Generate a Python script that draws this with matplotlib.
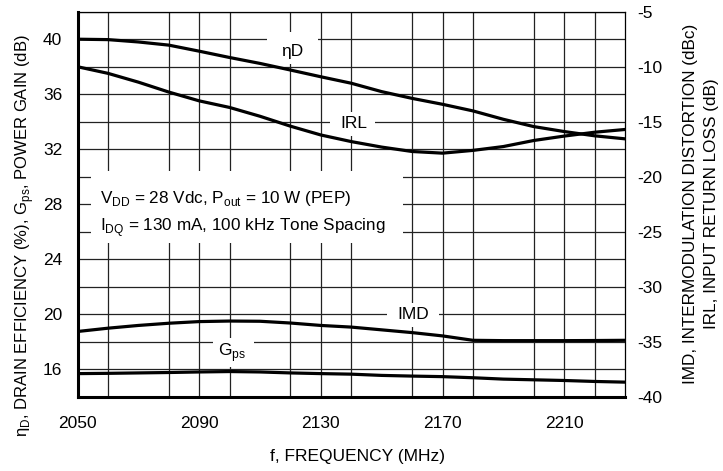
import matplotlib
matplotlib.use('Agg')
import matplotlib.pyplot as plt
from matplotlib.patches import Rectangle
from matplotlib.ticker import MultipleLocator

# font setup: helvetica-like look
plt.rcParams['font.family'] = ['Liberation Sans', 'DejaVu Sans']
plt.rcParams['mathtext.fontset'] = 'custom'
plt.rcParams['mathtext.rm'] = 'Liberation Sans'
plt.rcParams['axes.unicode_minus'] = False

# data
freq = [2050, 2060, 2070, 2080, 2090, 2100, 2110, 2120, 2130, 2140,
        2150, 2160, 2170, 2180, 2190, 2200, 2210, 2220, 2230]
eta_d = [40.0, 39.97, 39.8, 39.57, 39.13, 38.67, 38.24, 37.76, 37.27, 36.8,
         36.19, 35.7, 35.27, 34.79, 34.18, 33.65, 33.29, 32.98, 32.76]
gps = [15.7, 15.72, 15.75, 15.78, 15.82, 15.85, 15.82, 15.75, 15.7, 15.66,
       15.57, 15.52, 15.48, 15.4, 15.3, 15.25, 15.2, 15.13, 15.08]
irl = [-10.0, -10.6, -11.4, -12.3, -13.1, -13.7, -14.5, -15.4, -16.2, -16.8,
       -17.3, -17.7, -17.85, -17.6, -17.25, -16.7, -16.3, -15.95, -15.7]
imd = [-34.05, -33.75, -33.5, -33.3, -33.15, -33.1, -33.12, -33.28, -33.5, -33.65,
       -33.9, -34.15, -34.45, -34.85, -34.88, -34.88, -34.88, -34.87, -34.85]

x_ticks = [2050, 2090, 2130, 2170, 2210]
left_ticks = [16, 20, 24, 28, 32, 36, 40]
right_ticks = [-40, -35, -30, -25, -20, -15, -10, -5]

fs = 12.5

fig = plt.figure(figsize=(7.23, 4.71), dpi=100)
ax = fig.add_axes([0.1072, 0.1571, 0.7573, 0.8181])
ax2 = ax.twinx()

ax.set_xlim(2050, 2230)
ax.set_ylim(14, 42)
ax2.set_ylim(-40, -5)

ax.set_xticks(x_ticks)
ax.xaxis.set_minor_locator(MultipleLocator(20))
ax.set_yticks(left_ticks)
ax.yaxis.set_minor_locator(MultipleLocator(2))
ax2.set_yticks(right_ticks)
ax2.set_yticklabels([str(t) for t in right_ticks])

ax.grid(True, which='both', color='#222222', lw=0.9)
ax.tick_params(which='both', length=0, labelsize=fs)
ax.tick_params(axis='x', pad=14)
ax.tick_params(axis='y', pad=11)
ax2.tick_params(length=0, labelsize=fs, pad=9)

for s in ['left', 'bottom']:
    ax.spines[s].set_linewidth(2.2)
for s in ['top', 'right']:
    ax.spines[s].set_linewidth(0.9)
for s in ax2.spines.values():
    s.set_visible(False)

# white masks behind the in-plot labels
def mask(x0, x1, y0, y1):
    ax.add_patch(Rectangle((x0, y0), x1 - x0, y1 - y0, fc='white', ec='none', zorder=2))

mask(2054.4, 2157.0, 25.2, 30.4)
mask(2112.3, 2129.1, 38.2, 40.5)
mask(2133.1, 2147.9, 33.0, 34.7)
mask(2151.7, 2168.7, 19.1, 20.85)
mask(2094.5, 2108.1, 16.2, 18.3)

ax.plot(freq, eta_d, color='black', lw=2.3, zorder=3)
ax.plot(freq, gps, color='black', lw=2.3, zorder=3)
ax2.plot(freq, irl, color='black', lw=2.3, zorder=3)
ax2.plot(freq, imd, color='black', lw=2.3, zorder=3)

ax.text(2120.6, 39.1, 'ηD', fontsize=fs, ha='center', va='center', zorder=4)
ax.text(2140.7, 33.87, 'IRL', fontsize=fs, ha='center', va='center', zorder=4)
ax.text(2160.3, 19.98, 'IMD', fontsize=fs, ha='center', va='center', zorder=4)
ax.text(2100.7, 17.2, r'G$_\mathrm{ps}$', fontsize=fs, ha='center', va='center', zorder=4)

ax.text(2057.4, 28.1, r'V$_\mathrm{DD}$ = 28 Vdc, P$_\mathrm{out}$ = 10 W (PEP)',
        fontsize=12.3, ha='left', va='baseline', zorder=4)
ax.text(2057.4, 26.06, r'I$_\mathrm{DQ}$ = 130 mA, 100 kHz Tone Spacing',
        fontsize=12.3, ha='left', va='baseline', zorder=4)

fig.text(0.4945, 0.03, 'f, FREQUENCY (MHz)', fontsize=fs, ha='center', va='center')
fig.text(0.0346, 0.5, r'η$_\mathrm{D}$, DRAIN EFFICIENCY (%), G$_\mathrm{ps}$, POWER GAIN (dB)',
         fontsize=12, rotation=90, ha='center', va='center')
fig.text(0.970, 0.567, 'IMD, INTERMODULATION DISTORTION (dBc)\nIRL, INPUT RETURN LOSS (dB)',
         fontsize=12.3, rotation=90, ha='center', va='center', multialignment='center',
         linespacing=1.5)

fig.savefig('out.png', dpi=100)
